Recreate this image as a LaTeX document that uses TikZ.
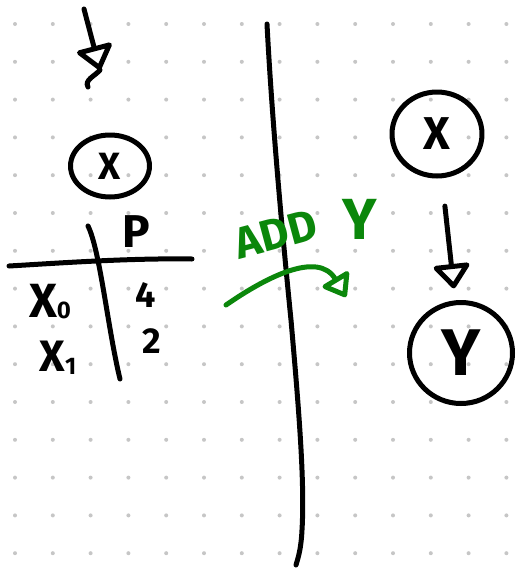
\documentclass[tikz,border=0pt]{standalone}
\usepackage{fontspec}
\setmainfont{Fira Sans}
\usetikzlibrary{arrows.meta,shapes.geometric}
\definecolor{ink}{HTML}{000000}
\definecolor{pen}{HTML}{0B870B}
\definecolor{griddot}{HTML}{C6C6C6}

\begin{document}
\begin{tikzpicture}[x=1pt,y=-1pt,
  stroke/.style={draw=ink,line width=5pt,line cap=round,line join=round},
  greenstroke/.style={draw=pen,line width=5pt,line cap=round,line join=round},
  tip/.style={-{Triangle[open,round,length=26pt,width=40pt]}},
  ring/.style={stroke,ellipse,inner sep=0pt},
  hand/.style={text=ink,font=\bfseries\fontsize{#1}{#1}\selectfont,inner sep=0pt},
  greenhand/.style={text=pen,font=\bfseries\fontsize{#1}{#1}\selectfont,inner sep=0pt}]

  % page and dotted grid
  \fill[white] (0,0) rectangle (519,571);
  \useasboundingbox (0,0) rectangle (519,571);
  \foreach \i in {0,...,13}
    \foreach \j in {0,...,14}
      \fill[griddot] ({15+37.8*\i},{24+37.8*\j}) circle (2pt);

  % left: incoming arrow and the X node
  \coordinate (inA) at (84,9);
  \coordinate (inB) at (100,70);
  \draw[stroke,tip] (inA) -- (inB);
  \draw[stroke] (inB) .. controls (95,76) and (84,80) .. (88,87);
  \node[ring,minimum width=79pt,minimum height=62pt] (xl) at (110,166)
    {\fontsize{38}{38}\selectfont\bfseries X};

  % left: probability table
  \coordinate (hA) at (9,266);
  \coordinate (hB) at (192,259);
  \coordinate (vA) at (88,226);
  \coordinate (vB) at (120,379);
  \draw[stroke] (hA) .. controls (60,263) and (130,258) .. (hB);
  \draw[stroke] (vA) .. controls (100,250) and (108,330) .. (vB);
  \node[hand=46] (p) at (136,232) {P};
  \node[hand=48] (x0) at (50,302) {X\raisebox{-1pt}{\fontsize{24}{24}\selectfont 0}};
  \node[hand=44] (x1) at (58,358) {X\raisebox{-3pt}{\fontsize{24}{24}\selectfont 1}};
  \node[hand=36] (v0) at (146,295) {4};
  \node[hand=36] (v1) at (152,341) {2};

  % the dividing line
  \coordinate (dA) at (267,24);
  \coordinate (dB) at (296,565);
  \draw[stroke] (dA) .. controls (272,120) and (282,230) .. (291,320)
    .. controls (298,400) and (305,480) .. (302,530)
    .. controls (301,550) and (298,558) .. (dB);

  % green annotation
  \node[greenhand=44,rotate=15] (add) at (276,234) {ADD};
  \node[greenhand=58] (addy) at (360,219) {Y};
  \coordinate (gA) at (226,305);
  \coordinate (gB) at (346,297);
  \draw[greenstroke,-{Triangle[open,round,length=24pt,width=34pt]}]
    (gA) .. controls (265,278) and (318,250) .. (gB);

  % right: X -> Y
  \node[ring,minimum width=90pt,minimum height=84pt] (xr) at (437,134)
    {\fontsize{46}{46}\selectfont\bfseries X};
  \node[ring,minimum width=103pt,minimum height=101pt] (yr) at (461,353)
    {\fontsize{66}{66}\selectfont\bfseries Y};
  \draw[stroke,tip,shorten <=28pt,shorten >=12pt] (xr) -- (yr);
\end{tikzpicture}
\end{document}
